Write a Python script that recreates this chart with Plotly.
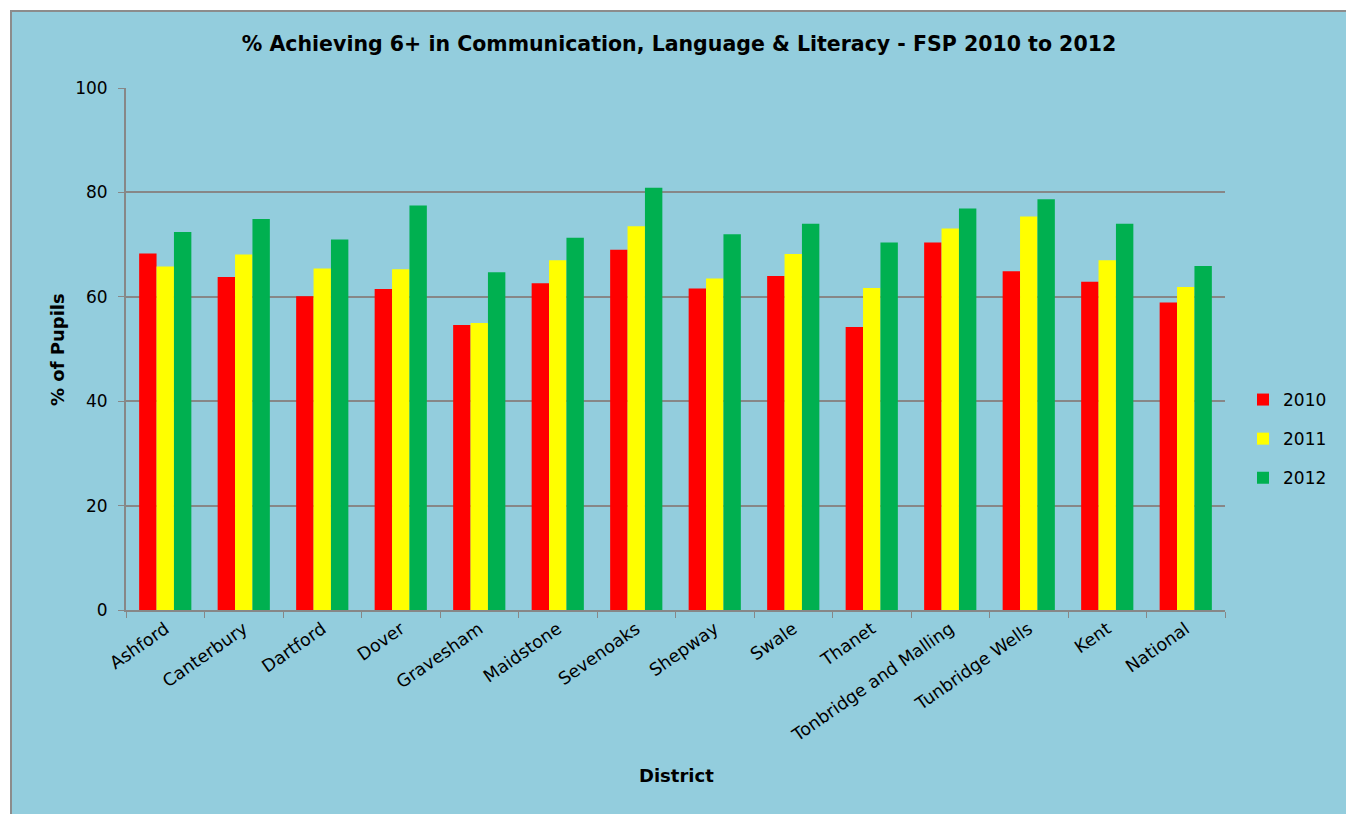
import plotly.graph_objects as go

districts = ["Ashford", "Canterbury", "Dartford", "Dover", "Gravesham", "Maidstone",
             "Sevenoaks", "Shepway", "Swale", "Thanet", "Tonbridge and Malling",
             "Tunbridge Wells", "Kent", "National"]
v2010 = [68.3, 63.8, 60.1, 61.5, 54.6, 62.6, 69.0, 61.6, 64.0, 54.2, 70.4, 64.9, 62.9, 58.9]
v2011 = [65.8, 68.1, 65.4, 65.3, 55.0, 67.0, 73.5, 63.5, 68.2, 61.7, 73.1, 75.4, 67.0, 61.9]
v2012 = [72.4, 74.9, 71.0, 77.5, 64.7, 71.3, 80.9, 72.0, 74.0, 70.4, 76.9, 78.7, 74.0, 65.9]
years = ["2010", "2011", "2012"]
colors = ["#FF0000", "#FFFF00", "#00B050"]
y_ticks = [0, 20, 40, 60, 80, 100]

# page offset of the plot div (default body margin)
O = 8
W, H = 1354 - O, 814 - O
L, R, T, B = 126 - O, 1225 - O, 88 - O, 610 - O
pw, ph = R - L, B - T

def px(x):
    return (x - O - L) / pw

def py(y):
    return (B - (y - O)) / ph

fig = go.Figure()
for name, vals, col in zip(years, [v2010, v2011, v2012], colors):
    fig.add_trace(go.Bar(x=districts, y=vals, name=name, marker_color=col,
                         marker_line_width=0, legendgroup=name))

font = "DejaVu Sans"
fig.update_layout(
    width=W, height=H,
    margin=dict(l=L, r=W - R, t=T, b=H - B),
    paper_bgcolor="white",
    plot_bgcolor="rgba(0,0,0,0)",
    barmode="group", bargap=0.335, bargroupgap=0,
    font=dict(family=font, size=17, color="black"),
    title=dict(text="<b>% Achieving 6+ in Communication, Language & Literacy - FSP 2010 to 2012</b>",
               x=(679 - O) / W, xanchor="center", y=1 - (44 - O) / H, yanchor="middle",
               font=dict(family=font, size=20.5, color="black")),
    legend=dict(x=px(1243), xanchor="left", y=py(439), yanchor="middle",
                bgcolor="rgba(0,0,0,0)", font=dict(size=17), tracegroupgap=14,
                traceorder="grouped", itemsizing="constant"),
    showlegend=True,
    shapes=[dict(type="rect", xref="paper", yref="paper",
                 x0=px(11), x1=px(1350), y0=py(830), y1=py(11),
                 fillcolor="#93CDDD", line=dict(color="#8C8C8C", width=2), layer="below")],
    annotations=[
        dict(text="<b>District</b>", xref="paper", yref="paper", x=px(676), y=py(775),
             showarrow=False, font=dict(size=18), xanchor="center", yanchor="middle"),
        dict(text="<b>% of Pupils</b>", xref="paper", yref="paper", x=px(57), y=py(350),
             showarrow=False, font=dict(size=18), textangle=-90,
             xanchor="center", yanchor="middle"),
    ],
)
fig.update_yaxes(range=[0, 100], tickvals=y_ticks, showgrid=True, gridcolor="#878787",
                 gridwidth=1.5, showline=True, linecolor="#878787", linewidth=2,
                 ticks="outside", ticklen=6, tickcolor="#878787", zeroline=False,
                 tickfont=dict(size=17), ticklabelstandoff=7)
fig.update_xaxes(showgrid=False, showline=True, linecolor="#878787", linewidth=2,
                 ticks="outside", ticklen=6, tickcolor="#878787", tickson="boundaries",
                 tickangle=-35, tickfont=dict(size=17.5))

fig.write_html("out.html")
